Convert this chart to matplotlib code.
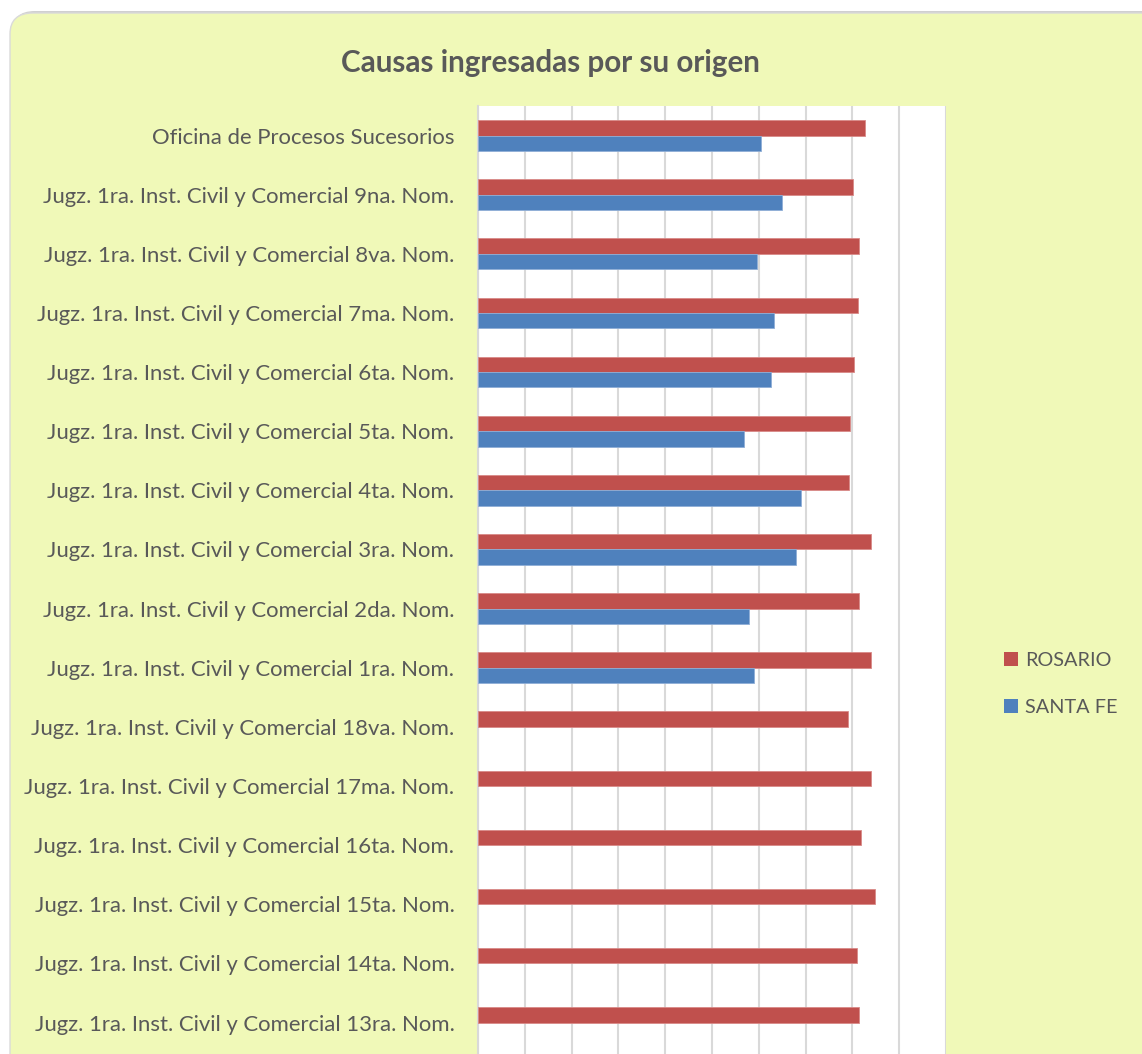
import numpy as np
import matplotlib
matplotlib.use("Agg")
import matplotlib.pyplot as plt
from matplotlib.patches import FancyBboxPatch, Patch

# --- data (top to bottom) ---
categories = [
    "Oficina de Procesos Sucesorios",
    "Jugz. 1ra. Inst. Civil y Comercial 9na. Nom.",
    "Jugz. 1ra. Inst. Civil y Comercial 8va. Nom.",
    "Jugz. 1ra. Inst. Civil y Comercial 7ma. Nom.",
    "Jugz. 1ra. Inst. Civil y Comercial 6ta. Nom.",
    "Jugz. 1ra. Inst. Civil y Comercial 5ta. Nom.",
    "Jugz. 1ra. Inst. Civil y Comercial 4ta. Nom.",
    "Jugz. 1ra. Inst. Civil y Comercial 3ra. Nom.",
    "Jugz. 1ra. Inst. Civil y Comercial 2da. Nom.",
    "Jugz. 1ra. Inst. Civil y Comercial 1ra. Nom.",
    "Jugz. 1ra. Inst. Civil y Comercial 18va. Nom.",
    "Jugz. 1ra. Inst. Civil y Comercial 17ma. Nom.",
    "Jugz. 1ra. Inst. Civil y Comercial 16ta. Nom.",
    "Jugz. 1ra. Inst. Civil y Comercial 15ta. Nom.",
    "Jugz. 1ra. Inst. Civil y Comercial 14ta. Nom.",
    "Jugz. 1ra. Inst. Civil y Comercial 13ra. Nom.",
]

rosario = [827, 802, 815, 811, 803, 795, 792, 840, 815, 840, 790, 840, 819, 848, 809, 815]
santa_fe = [604, 649, 597, 633, 626, 569, 691, 680, 578, 590, 0, 0, 0, 0, 0, 0]

series_names = ["ROSARIO", "SANTA FE"]
series_colors = ["#C0504D", "#4F81BD"]

TEXT = "#595959"
BG = "#F0F9B8"

plt.rcParams["font.family"] = ["Lato", "DejaVu Sans"]

W, H = 1142, 1054
fig = plt.figure(figsize=(W / 100, H / 100), dpi=100)
fig.patch.set_facecolor("white")

# rounded chart background (with a soft shadow)
shadow = FancyBboxPatch((12 / W, -0.2), (W + 40) / W, (H - 11) / H + 0.2,
                        boxstyle="round,pad=0,rounding_size=0.02",
                        transform=fig.transFigure, facecolor="#D0D0D0",
                        edgecolor="none", zorder=-3)
frame = FancyBboxPatch((10 / W, -0.2), (W + 40) / W, (H - 13) / H + 0.2,
                       boxstyle="round,pad=0,rounding_size=0.02",
                       transform=fig.transFigure, facecolor=BG,
                       edgecolor="#DADADA", linewidth=1.0, zorder=-2)
fig.patches.extend([shadow, frame])

# plot area in pixel terms
left_px, right_px, top_px, bot_px = 478, 946, 106, 1100
row_px = 59.13
ax = fig.add_axes([left_px / W, 1 - bot_px / H,
                   (right_px - left_px) / W, (bot_px - top_px) / H])
ax.set_facecolor("white")

y = np.arange(len(categories))
h = 0.26
ax.barh(y - h / 2, rosario, height=h, color=series_colors[0],
        edgecolor="#D98A88", linewidth=0.6, zorder=3)
sf_lw = [0.6 if v > 0 else 0 for v in santa_fe]
ax.barh(y + h / 2, santa_fe, height=h, color=series_colors[1],
        edgecolor="#8FAED6", linewidth=sf_lw, zorder=3)

ax.set_xlim(0, 1000)
ax.set_ylim(-0.5 + (bot_px - top_px) / row_px, -0.5)
ax.set_xticks(np.arange(0, 1001, 100))
ax.xaxis.grid(True, color="#D9D9D9", linewidth=1.5, zorder=0)
ax.set_axisbelow(True)
ax.tick_params(axis="x", length=0, labelbottom=False)
ax.set_yticks(y)
ax.set_yticklabels(categories, fontsize=15.9, color=TEXT)
ax.tick_params(axis="y", length=0, pad=17)
for s in ["top", "right", "bottom"]:
    ax.spines[s].set_visible(False)
ax.spines["left"].set_color("#D9D9D9")
ax.spines["left"].set_linewidth(1.5)

fig.text(550 / W, 1 - 63 / H, "Causas ingresadas por su origen",
         ha="center", va="center", fontsize=21.3, fontweight="bold", color=TEXT)

handles = [Patch(facecolor=c, edgecolor="none") for c in series_colors]
fig.legend(handles, series_names, loc="center left",
           bbox_to_anchor=(986 / W, 1 - 684 / H), frameon=False,
           fontsize=14.3, labelcolor=TEXT, handlelength=0.7, handleheight=0.7,
           handletextpad=0.35, labelspacing=1.5)

fig.savefig("out.png", dpi=100, facecolor=fig.get_facecolor())
